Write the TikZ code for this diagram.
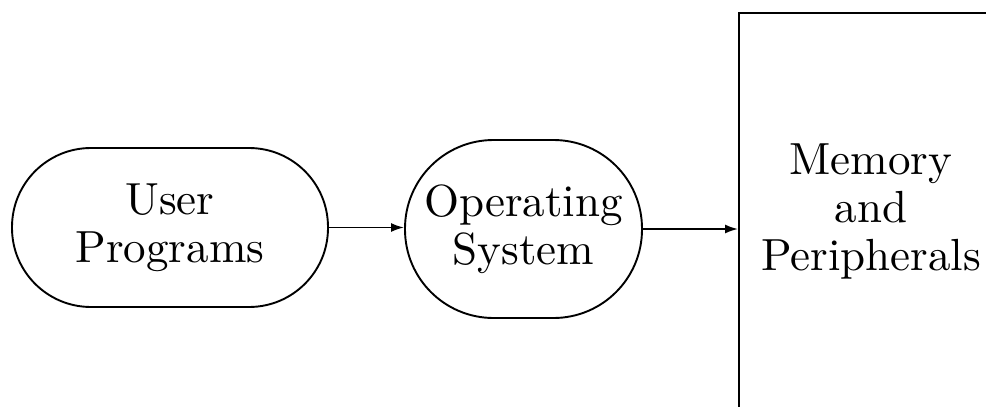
\documentclass[tikz,border=0pt]{standalone}
\usepackage{fontspec}
\setmainfont{lmroman10-regular.otf}
\usetikzlibrary{arrows.meta}
\begin{document}
\begin{tikzpicture}[x=1pt,y=-1pt,
  box/.style={draw,line width=1.9pt,align=center,inner sep=0pt,
    font=\fontsize{45}{48}\selectfont},
  conn/.style={line width=1.8pt,-{Latex[length=13pt,width=9pt]}}]
\path[use as bounding box] (0,0) rectangle (986,407);
\clip (0,0) rectangle (986,407);
\fill[white] (0,0) rectangle (986,407);
\node[box,minimum width=316pt,minimum height=159pt,rounded corners=79pt] (up) at (170,227.5) {User\\Programs};
\node[box,minimum width=237pt,minimum height=178pt,rounded corners=88.5pt] (os) at (523.5,229) {Operating\\System};
\node[box,minimum width=264pt,minimum height=396pt] (mem) at (871,211) {Memory\\and\\Peripherals};
\draw[conn] (up.east) -- (up.east -| os.west);
\draw[conn] (os.east) -- (os.east -| mem.west);
\end{tikzpicture}
\end{document}
